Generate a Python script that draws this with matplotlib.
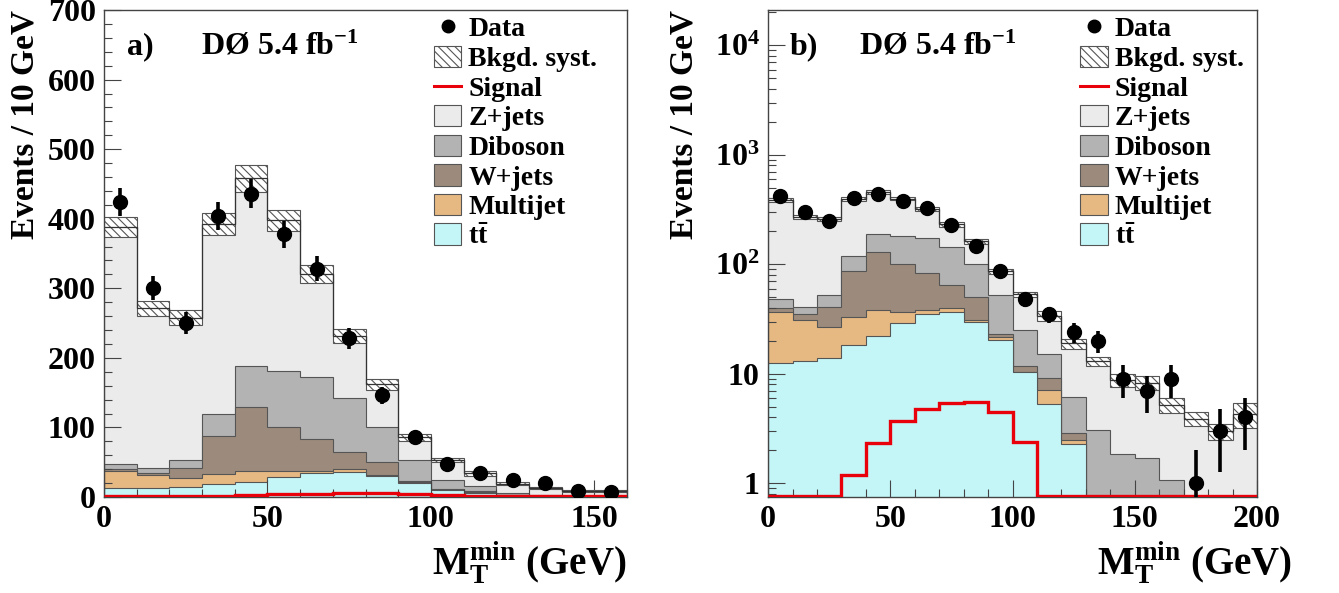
import numpy as np
import matplotlib
matplotlib.use('Agg')
import matplotlib.pyplot as plt
from matplotlib.patches import Patch
from matplotlib.lines import Line2D
from matplotlib.ticker import MultipleLocator, LogLocator, FuncFormatter, NullFormatter

plt.rcParams.update({
    'font.family': 'Liberation Serif',
    'font.weight': 'bold',
    'mathtext.fontset': 'custom',
    'mathtext.rm': 'Liberation Serif:bold',
    'mathtext.bf': 'Liberation Serif:bold',
    'mathtext.it': 'Liberation Serif:bold',
    'hatch.linewidth': 0.8,
})

# 10 GeV bins, 0-200 GeV (left panel shows 0-160)
bin_edges = np.arange(0, 201, 10)
data = np.array([424, 300, 250, 404, 436, 378, 328, 228, 146, 86,
                 48, 35, 24, 20, 9, 7, 9, 1, 3, 4])
ttbar = np.array([12.6, 13, 14, 18.5, 22, 29, 35, 36.5, 30, 20.5,
                  10.3, 5.3, 2.3, 0, 0, 0, 0, 0, 0, 0])
multijet = np.array([24.4, 18, 13, 14.5, 16, 8, 3, 3.5, 1, 1,
                     0.1, 1.8, 0.2, 0, 0, 0, 0, 0, 0, 0])
wjets = np.array([3, 4, 14, 54, 91, 63, 46, 25, 19, 1.5,
                  1.4, 2.1, 0.4, 0, 0, 0, 0, 0, 0, 0])
diboson = np.array([8, 6, 12, 32, 59, 81, 89, 78, 50, 30,
                    13.3, 6, 3.3, 3.1, 1.85, 1.7, 1.07, 0.3, 0.2, 0.2])
zjets = np.array([340, 230, 205, 273, 270, 217, 147, 88, 62, 33,
                  28, 18.8, 12.8, 9.9, 6.95, 6.6, 4.1, 3.6, 2.8, 4.1])
bkg_syst = np.array([14, 11, 11, 16, 19, 15, 13, 10, 8, 5,
                     2.5, 3.4, 2, 1.3, 1.2, 1.2, 0.8, 0.55, 0.5, 1.1])
signal = np.array([0, 0, 0, 1.18, 2.34, 3.7, 4.8, 5.4, 5.5, 4.5,
                   2.4, 0, 0, 0, 0, 0, 0, 0, 0, 0])

comp_names = ['t$\\bar{\\mathbf{t}}$', 'Multijet', 'W+jets', 'Diboson', 'Z+jets']
comp_colors = ['#c4f6f8', '#e6b983', '#9c8b7c', '#b3b3b3', '#ebebeb']
EDGE = '#555555'
RED = '#e8000b'


def draw_panel(ax, floor, sig_floor):
    comps = [ttbar, multijet, wjets, diboson, zjets]
    tops = np.cumsum(np.vstack(comps), axis=0)
    # cumulative histograms, outermost first (THStack style)
    for top, c in zip(tops[::-1], comp_colors[::-1]):
        ax.stairs(np.maximum(top, floor), bin_edges, baseline=floor, fill=True,
                  facecolor=c, edgecolor=EDGE, linewidth=0.8)
    total = tops[-1]
    ax.bar(bin_edges[:-1], 2 * bkg_syst, bottom=total - bkg_syst, width=10,
           align='edge', facecolor='white', edgecolor=EDGE, hatch='\\\\\\\\',
           linewidth=0.8, zorder=2)
    ax.stairs(total, bin_edges, baseline=None, color='#333333', linewidth=0.9, zorder=2.1)
    ax.stairs(np.maximum(signal, sig_floor), bin_edges, baseline=None,
              color=RED, linewidth=2.4, zorder=3)
    err = np.sqrt(data)
    err_lo = np.minimum(err, data * 0.99)
    centers = 0.5 * (bin_edges[1:] + bin_edges[:-1])
    ax.errorbar(centers, data, yerr=[err_lo, err], fmt='o', color='black',
                ms=10, elinewidth=2.6, capsize=0, zorder=5)
    for s in ax.spines.values():
        s.set_color('#444444')
        s.set_linewidth(1.0)
    ax.tick_params(which='both', direction='in', top=False, right=False,
                   labelsize=23, pad=6, width=0.8, colors='#444444', labelcolor='black')
    ax.tick_params(which='major', length=12)
    ax.tick_params(which='minor', length=6)
    ax.xaxis.set_major_locator(MultipleLocator(50))
    ax.xaxis.set_minor_locator(MultipleLocator(10))


def legend_handles():
    h = [Line2D([], [], marker='o', color='black', ls='none', ms=9),
         Patch(facecolor='white', edgecolor=EDGE, hatch='\\\\\\\\', lw=0.8),
         Line2D([], [], color=RED, lw=2.2)]
    for c in comp_colors[::-1]:
        h.append(Patch(facecolor=c, edgecolor=EDGE, lw=0.8))
    labels = ['Data', 'Bkgd. syst.', 'Signal'] + comp_names[::-1]
    return h, labels


fig = plt.figure(figsize=(13.39, 5.93), dpi=100)
axL = fig.add_axes([0.0777, 0.1619, 0.3906, 0.8212])
axR = fig.add_axes([0.5736, 0.1619, 0.3652, 0.8212])

# panel a: linear
draw_panel(axL, 0, 0.8)
axL.set_xlim(0, 160)
axL.set_ylim(0, 700)
axL.yaxis.set_major_locator(MultipleLocator(100))
axL.yaxis.set_minor_locator(MultipleLocator(20))

# panel b: log
axR.set_yscale('log')
draw_panel(axR, 0.05, 0.77)
axR.set_xlim(0, 200)
axR.set_ylim(0.75, 2.1e4)
axR.yaxis.set_major_locator(LogLocator(base=10, numticks=10))
axR.yaxis.set_minor_locator(LogLocator(base=10, subs=np.arange(2, 10), numticks=20))
axR.yaxis.set_minor_formatter(NullFormatter())


def log_fmt(v, pos):
    e = int(round(np.log10(v)))
    if e == 0:
        return '1'
    if e == 1:
        return '10'
    return '$\\mathbf{10^{%d}}$' % e


axR.yaxis.set_major_formatter(FuncFormatter(log_fmt))

for ax, tag, ylab_x, xlab_x, leg_x in [(axL, 'a)', -0.152, 1.0, 0.625),
                                       (axR, 'b)', -0.172, 1.072, 0.632)]:
    ax.text(0.044, 0.925, tag, transform=ax.transAxes, fontsize=23, va='center')
    ax.text(0.186, 0.925, 'DØ 5.4 fb$^{\\mathbf{-1}}$', transform=ax.transAxes,
            fontsize=23, va='center')
    ax.text(ylab_x, 1.0, 'Events / 10 GeV', transform=ax.transAxes, rotation=90,
            ha='center', va='top', fontsize=24)
    ax.text(xlab_x, -0.16, '$\\mathbf{M_{T}^{min}}$ (GeV)', transform=ax.transAxes,
            ha='right', va='baseline', fontsize=28)
    h, l = legend_handles()
    ax.legend(h, l, loc='upper left', bbox_to_anchor=(leg_x, 0.993), frameon=False,
              fontsize=20, handlelength=1.0, handleheight=0.8, handletextpad=0.25,
              labelspacing=0.12, borderpad=0.1, borderaxespad=0)

fig.savefig('out.png', dpi=100)
